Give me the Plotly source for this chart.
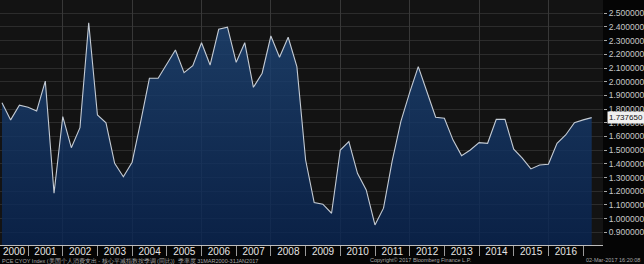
import pandas as pd
import plotly.graph_objects as go

# ---- data ----
years = [2000, 2001, 2002, 2003, 2004, 2005, 2006, 2007, 2008,
         2009, 2010, 2011, 2012, 2013, 2014, 2015, 2016, 2017]
quarter_ends = ["03-31", "06-30", "09-30", "12-31"]
values = [
    1.847, 1.721, 1.828, 1.813, 1.786, 2.005, 1.185, 1.745,   # 2000-2001
    1.518, 1.664, 2.431, 1.757, 1.700, 1.404, 1.306, 1.412,   # 2002-2003
    1.711, 2.025, 2.025, 2.127, 2.232, 2.066, 2.117, 2.285,   # 2004-2005
    2.122, 2.383, 2.398, 2.142, 2.285, 1.959, 2.062, 2.334,   # 2006-2007
    2.179, 2.325, 2.110, 1.428, 1.117, 1.105, 1.039, 1.501,   # 2008-2009
    1.562, 1.331, 1.209, 0.954, 1.076, 1.420, 1.710, 1.920,   # 2010-2011
    2.110, 1.927, 1.740, 1.733, 1.575, 1.460, 1.501, 1.555,   # 2012-2013
    1.550, 1.725, 1.725, 1.507, 1.441, 1.363, 1.392, 1.397,   # 2014-2015
    1.550, 1.611, 1.701, 1.721, 1.73765                       # 2016-2017
]
last_label = "1.737650"
y_ticks = [0.9, 1.0, 1.1, 1.2, 1.3, 1.4, 1.5, 1.6, 1.7, 1.8, 1.9,
           2.0, 2.1, 2.2, 2.3, 2.4, 2.5]
year_labels = [str(y) for y in years[:-1]]

x_range = ["2000-03-10", "2017-07-28"]
y_range = [0.807, 2.597]

dates = [f"{y}-{q}" for y in years for q in quarter_ends][:len(values)]
r0 = pd.Timestamp(x_range[0])
year_mid = []
for y in years[:-1]:
    a = max(pd.Timestamp(f"{y}-01-01"), r0)
    b = pd.Timestamp(f"{y + 1}-01-01")
    year_mid.append((a + (b - a) / 2).strftime("%Y-%m-%d"))
year_start = [f"{y}-01-01" for y in years[1:]]
grid_years = [f"{y}-01-01" for y in years if y % 2 == 0 and y > 2000]

fig = go.Figure()
fig.add_trace(go.Scatter(
    x=dates, y=values, mode="lines",
    line=dict(color="#c4cbd4", width=1.1),
    fill="tozeroy",
    fillgradient=dict(type="vertical",
                      colorscale=[[0, "rgba(8,36,82,0.80)"],
                                  [1, "rgba(30,70,120,0.80)"]],
                      start=0.8, stop=2.45),
    hoverinfo="skip", showlegend=False))
# invisible trace on grid axis
fig.add_trace(go.Scatter(x=[dates[0]], y=[values[0]], xaxis="x2",
                         mode="markers", marker=dict(opacity=0),
                         hoverinfo="skip", showlegend=False))

fig.update_layout(
    width=644, height=264,
    margin=dict(l=0, r=41, t=0, b=19),
    paper_bgcolor="#050505",
    plot_bgcolor="#131313",
    font=dict(family="Liberation Sans, Arial, sans-serif", color="#d0d0d0"),
    xaxis=dict(
        type="date", range=x_range,
        tickmode="array", tickvals=year_mid, ticktext=year_labels,
        ticks="", tickfont=dict(size=10, color="#e4e4e4"),
        ticklabelstandoff=-3,
        showgrid=False, zeroline=False,
        showline=True, linecolor="#bdbdbd", linewidth=1,
        minor=dict(tickvals=year_start, ticks="outside", ticklen=10,
                   tickcolor="#9a9a9a", tickwidth=1, showgrid=False),
    ),
    xaxis2=dict(
        type="date", overlaying="x", matches="x", range=x_range,
        tickmode="array", tickvals=grid_years,
        showticklabels=False, ticks="",
        showgrid=True, gridcolor="#383838", gridwidth=1,
        zeroline=False, showline=False,
    ),
    yaxis=dict(
        side="right", range=y_range,
        tickmode="array", tickvals=y_ticks,
        ticktext=[f"{v:.6f}" for v in y_ticks],
        ticks="outside", ticklen=3, tickcolor="#a8a8a8",
        tickfont=dict(size=8.5, color="#c8c8c8"),
        showgrid=True, gridcolor="#2c2c2c", gridwidth=1,
        zeroline=False, showline=False,
    ),
)

fig.add_annotation(x=1, xref="paper", y=values[-1], yref="y",
                   xanchor="left", xshift=4, text=last_label,
                   showarrow=False, bgcolor="#f0f0f0", borderpad=1,
                   font=dict(size=8, color="#111111"))

footer_font = dict(size=5.5, color="#a8a8a8")
fig.add_annotation(x=0, xref="paper", y=0, yref="paper", yanchor="top",
                   yshift=-10, xanchor="left", showarrow=False,
                   text="PCE CYOY Index (美国个人消费支出 - 核心平减指数按季调 (同比))  季率度 31MAR2000-31JAN2017",
                   font=footer_font)
fig.add_annotation(x=368 / 603, xref="paper", y=0, yref="paper", yanchor="top",
                   yshift=-10, xanchor="left", showarrow=False,
                   text="Copyright© 2017 Bloomberg Finance L.P.",
                   font=footer_font)
fig.add_annotation(x=642 / 603, xref="paper", y=0, yref="paper", yanchor="top",
                   yshift=-10, xanchor="right", showarrow=False,
                   text="02-Mar-2017 16:20:08",
                   font=footer_font)

fig.write_html("out.html")
